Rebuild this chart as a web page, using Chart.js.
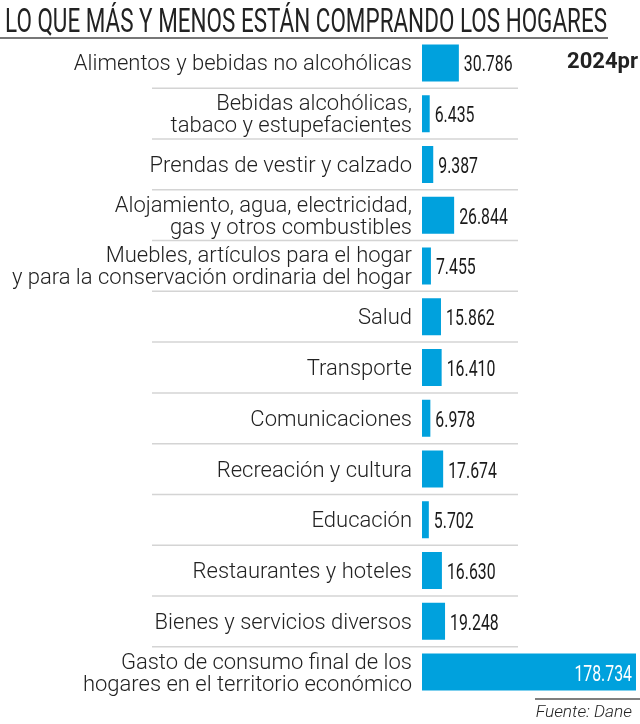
<!DOCTYPE html>
<html>
<head>
<meta charset="utf-8">
<script src="https://cdn.jsdelivr.net/npm/chart.js@4/dist/chart.umd.min.js"></script>
<style>
  html, body { margin: 0; padding: 0; background: #fff; }
  #wrap { position: relative; width: 640px; height: 724px; }
</style>
</head>
<body>
<div id="wrap"><canvas id="chart" width="640" height="724"></canvas></div>
<script>
// =====================================
// DATA
// =====================================
const titleText = "LO QUE MÁS Y MENOS ESTÁN COMPRANDO LOS HOGARES";
const yearText = "2024pr";
const sourceText = "Fuente: Dane";

const categories = [
  "Alimentos y bebidas no alcohólicas",
  ["Bebidas alcohólicas,", "tabaco y estupefacientes"],
  "Prendas de vestir y calzado",
  ["Alojamiento, agua, electricidad,", "gas y otros combustibles"],
  ["Muebles, artículos para el hogar", "y para la conservación ordinaria del hogar"],
  "Salud",
  "Transporte",
  "Comunicaciones",
  "Recreación y cultura",
  "Educación",
  "Restaurantes y hoteles",
  "Bienes y servicios diversos",
  ["Gasto de consumo final de los", "hogares en el territorio económico"]
];

const values = [30786, 6435, 9387, 26844, 7455, 15862, 16410, 6978, 17674, 5702, 16630, 19248, 178734];

// thousands separator with a dot
function fmt(v) {
  return String(v).replace(/\B(?=(\d{3})+(?!\d))/g, ".");
}

// draw horizontally squeezed text (condensed look)
function drawCondensed(ctx, text, x, y, sx, align) {
  ctx.save();
  ctx.translate(x, y);
  ctx.scale(sx, 1);
  ctx.textAlign = align;
  ctx.fillText(text, 0, 0);
  ctx.restore();
}

// =====================================
// EXTRA DRAWING: separators, values, title, source
// =====================================
const decorPlugin = {
  id: "decor",
  beforeDatasetsDraw(chart) {
    const ctx = chart.ctx;
    const y = chart.scales.y;
    ctx.save();
    ctx.strokeStyle = "#d4d4d4";
    ctx.lineWidth = 1.5;
    for (let i = 0; i < categories.length - 1; i++) {
      const mid = (y.getPixelForValue(i) + y.getPixelForValue(i + 1)) / 2;
      ctx.beginPath();
      ctx.moveTo(152, mid);
      ctx.lineTo(518, mid);
      ctx.stroke();
    }
    ctx.restore();
  },
  afterDatasetsDraw(chart) {
    const ctx = chart.ctx;
    const meta = chart.getDatasetMeta(0);
    ctx.save();
    ctx.font = "400 22px Roboto";
    ctx.textBaseline = "alphabetic";
    meta.data.forEach((bar, i) => {
      const label = fmt(values[i]);
      if (i === values.length - 1) {
        ctx.fillStyle = "#ffffff";
        drawCondensed(ctx, label, bar.x - 4, bar.y + 8.5, 0.72, "right");
      } else {
        ctx.fillStyle = "#1a1a1a";
        drawCondensed(ctx, label, bar.x + 5, bar.y + 8.5, 0.72, "left");
      }
    });
    ctx.restore();
  },
  afterDraw(chart) {
    const ctx = chart.ctx;
    ctx.save();
    // title
    ctx.fillStyle = "#222";
    ctx.font = "400 34px Roboto";
    ctx.textBaseline = "alphabetic";
    const tw = ctx.measureText(titleText).width;
    drawCondensed(ctx, titleText, 5, 32, 602 / tw, "left");
    ctx.strokeStyle = "#777";
    ctx.lineWidth = 2;
    ctx.beginPath();
    ctx.moveTo(0, 38);
    ctx.lineTo(608, 38);
    ctx.stroke();
    // year tag
    ctx.font = "700 22px Roboto";
    ctx.fillStyle = "#222";
    ctx.textAlign = "right";
    ctx.fillText(yearText, 638, 68);
    // source
    ctx.strokeStyle = "#555";
    ctx.lineWidth = 1.5;
    ctx.beginPath();
    ctx.moveTo(535, 699);
    ctx.lineTo(640, 699);
    ctx.stroke();
    ctx.font = "italic 300 17px Roboto";
    ctx.fillStyle = "#222";
    drawCondensed(ctx, sourceText, 632, 717, 1.02, "right");
    ctx.restore();
  }
};

// =====================================
// CHART
// =====================================
new Chart(document.getElementById("chart"), {
  type: "bar",
  data: {
    labels: categories,
    datasets: [{
      data: values,
      backgroundColor: "#00a1dd",
      borderWidth: 0,
      barPercentage: 0.73,
      categoryPercentage: 1
    }]
  },
  options: {
    indexAxis: "y",
    responsive: false,
    animation: false,
    layout: { padding: { top: 37.6, bottom: 26.6, left: 0, right: 4 } },
    plugins: {
      legend: { display: false },
      tooltip: { enabled: false }
    },
    scales: {
      x: { display: false, min: 0, max: 178734 },
      y: {
        grid: { display: false, drawTicks: false },
        border: { display: false },
        ticks: {
          color: "#222",
          padding: 10,
          labelOffset: 2,
          font: { family: "Roboto", size: 22, weight: 300, lineHeight: 1.0 }
        },
        afterFit(scale) { scale.width = 422; }
      }
    }
  },
  plugins: [decorPlugin]
});
</script>
</body>
</html>
